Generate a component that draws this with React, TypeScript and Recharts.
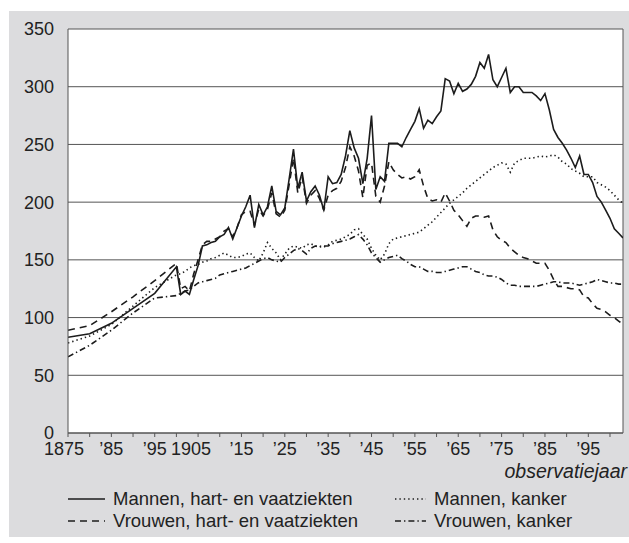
import React from "react";
import { LineChart, Line, XAxis, YAxis, CartesianGrid, ReferenceLine } from "recharts";

// observation years: 5-yearly until 1900, yearly afterwards
const years = [
  1875, 1880, 1885, 1890, 1895, 1900,
  1901, 1902, 1903, 1904, 1905, 1906, 1907, 1908, 1909, 1910,
  1911, 1912, 1913, 1914, 1915, 1916, 1917, 1918, 1919, 1920,
  1921, 1922, 1923, 1924, 1925, 1926, 1927, 1928, 1929, 1930,
  1931, 1932, 1933, 1934, 1935, 1936, 1937, 1938, 1939, 1940,
  1941, 1942, 1943, 1944, 1945, 1946, 1947, 1948, 1949, 1950,
  1951, 1952, 1953, 1954, 1955, 1956, 1957, 1958, 1959, 1960,
  1961, 1962, 1963, 1964, 1965, 1966, 1967, 1968, 1969, 1970,
  1971, 1972, 1973, 1974, 1975, 1976, 1977, 1978, 1979, 1980,
  1981, 1982, 1983, 1984, 1985, 1986, 1987, 1988, 1989, 1990,
  1991, 1992, 1993, 1994, 1995, 1996, 1997, 1998, 1999, 2000,
  2001, 2002, 2003,
];

const mannenHart = [
  83, 86, 95, 108, 121, 144,
  120, 123, 120, 133, 145, 162, 163, 165, 166, 170,
  172, 178, 168, 178, 188, 196, 206, 178, 198, 189,
  196, 214, 192, 189, 195, 220, 246, 212, 226, 201,
  209, 214, 206, 193, 222, 216, 217, 224, 240, 262,
  247, 238, 216, 238, 275, 211, 222, 218, 251, 251,
  251, 248, 256, 263, 270, 281, 264, 271, 268, 274,
  279, 307, 305, 294, 303, 296, 298, 302, 309, 321,
  316, 328, 306, 300, 308, 316, 295, 300, 300, 295,
  295, 295, 292, 288, 294, 280, 263, 256, 251, 245,
  238, 230, 240, 224, 224, 217, 205, 200, 193, 186,
  177, 173, 169,
];

const vrouwenHart = [
  89, 93, 105, 118, 132, 147,
  125, 127, 123, 138, 150, 163, 166, 166, 168, 170,
  175, 177, 170, 178, 189, 192, 192, 180, 194, 188,
  194, 208, 190, 187, 193, 215, 238, 208, 222, 199,
  206, 210, 203, 193, 206, 210, 212, 218, 230, 248,
  240, 227, 204, 232, 234, 205, 200, 214, 235, 228,
  224, 221, 222, 220, 222, 228, 214, 203, 201, 202,
  200, 208, 201, 193, 189, 184, 179, 186, 188, 188,
  187, 188, 176, 170, 167, 165, 160, 157, 154, 152,
  151, 149, 147, 147, 147, 141, 133, 127, 127, 126,
  125, 125, 124, 118, 117, 112, 108, 107, 105, 102,
  100, 97, 94,
];

const mannenKanker = [
  78, 84, 94, 110, 126, 137,
  138, 140, 143, 145, 146, 148, 149, 151, 152, 154,
  156, 154, 152, 152, 153, 155, 156, 152, 149, 156,
  165, 160, 156, 150, 155, 160, 162, 161, 160, 163,
  164, 162, 162, 161, 163, 166, 167, 168, 170, 172,
  176, 177, 172, 168, 160, 154, 150, 155, 164, 168,
  169, 170, 171, 172, 173, 174, 177, 180, 183, 187,
  191, 195, 199, 202, 205, 208, 212, 215, 218, 221,
  224, 227, 230, 232, 234, 233, 226, 234, 236, 238,
  238, 238, 239, 240, 239, 240, 241, 239, 235, 233,
  229, 227, 225, 222, 222, 222, 217, 215, 213, 210,
  206, 202, 199,
];

const vrouwenKanker = [
  66, 76, 89, 104, 117, 119,
  121, 123, 124, 127, 130, 131, 132, 133, 134, 137,
  138, 139, 140, 141, 142, 143, 145, 147, 149, 151,
  152, 150, 149, 148, 152, 155, 158, 160, 158, 155,
  160, 162, 161, 162, 162, 164, 165, 166, 167, 168,
  170, 172, 168, 163, 156, 152, 148, 150, 152, 153,
  154, 151, 149, 146, 144, 144, 142, 140, 140, 139,
  139, 140, 141, 142, 143, 144, 144, 142, 140, 139,
  137, 136, 136, 135, 133, 130, 128, 128, 127, 127,
  127, 127, 127, 128, 129, 130, 131, 131, 130, 130,
  130, 129, 128, 129, 130, 131, 133, 132, 131, 130,
  130, 129, 129,
];

const xTicks = [
  1875, 1880, 1885, 1890, 1895, 1900, 1905, 1910, 1915, 1920, 1925, 1930, 1935,
  1940, 1945, 1950, 1955, 1960, 1965, 1970, 1975, 1980, 1985, 1990, 1995, 2000,
];
const xLabelYears = [1875, 1885, 1895, 1905, 1915, 1925, 1935, 1945, 1955, 1965, 1975, 1985, 1995];
const xLabels = ["1875", "’85", "’95", "1905", "’15", "’25", "’35", "’45", "’55", "’65", "’75", "’85", "’95"];
const yTicks = [0, 50, 100, 150, 200, 250, 300, 350];

const data = years.map((year, i) => ({
  year,
  mannenHart: mannenHart[i],
  vrouwenHart: vrouwenHart[i],
  mannenKanker: mannenKanker[i],
  vrouwenKanker: vrouwenKanker[i],
}));

const INK = "#1c1c1c";
const FONT = "'Liberation Sans', Arial, Helvetica, sans-serif";

const series = [
  { key: "mannenHart", name: "Mannen, hart- en vaatziekten", dash: undefined },
  { key: "vrouwenHart", name: "Vrouwen, hart- en vaatziekten", dash: "7 5" },
  { key: "mannenKanker", name: "Mannen, kanker", dash: "1.4 3" },
  { key: "vrouwenKanker", name: "Vrouwen, kanker", dash: "6 3 1.4 3" },
];

const XTick = (props: any) => {
  const { x, y, payload } = props;
  const idx = xLabelYears.indexOf(payload.value);
  if (idx < 0) return null;
  const shift = payload.value === 1875 ? -4 : payload.value === 1905 ? -7 : 0;
  return (
    <text x={x + shift} y={y} dy="0.71em" textAnchor="middle" fill="#222" fontSize={18} fontFamily={FONT}>
      {xLabels[idx]}
    </text>
  );
};

const LegendItem = ({ s, w }: { s: (typeof series)[number]; w: number }) => (
  <div style={{ display: "flex", alignItems: "center", height: 22 }}>
    <svg width={w} height={10} style={{ marginRight: 8 }}>
      <line x1={0} y1={5} x2={w} y2={5} stroke={INK} strokeWidth={1.6} strokeDasharray={s.dash} />
    </svg>
    <span>{s.name}</span>
  </div>
);

export default function App() {
  return (
    <div style={{ position: "absolute", left: 0, top: 0, width: 629, height: 543, background: "#fff", fontFamily: FONT }}>
      <div style={{ position: "absolute", left: 9, top: 11, width: 620, height: 526, background: "#dcdcde" }} />
      <div style={{ position: "absolute", left: 0, top: 0 }}>
        <LineChart width={629} height={543} data={data} margin={{ top: 29, right: 6, left: 8, bottom: 80 }}>
          <CartesianGrid vertical={false} stroke="#555" fill="#ffffff" fillOpacity={1} />
          <XAxis
            dataKey="year"
            type="number"
            domain={[1875, 2003]}
            ticks={xTicks}
            interval={0}
            height={30}
            tick={<XTick />}
            tickSize={4}
            tickMargin={5}
            stroke="#555"
            allowDataOverflow
          />
          <YAxis
            domain={[0, 350]}
            ticks={yTicks}
            interval={0}
            width={60}
            tickLine={false}
            tickMargin={8}
            stroke="#555"
            tick={{ fill: "#222", fontSize: 18, fontFamily: FONT }}
          />
          <ReferenceLine x={2003} stroke="#555" />
          {series.map((s) => (
            <Line
              key={s.key}
              type="linear"
              dataKey={s.key}
              name={s.name}
              stroke={INK}
              strokeWidth={1.6}
              strokeDasharray={s.dash}
              dot={false}
              isAnimationActive={false}
            />
          ))}
        </LineChart>
      </div>
      <div style={{ position: "absolute", right: 2, top: 460, lineHeight: "22px", fontSize: 19.5, fontStyle: "italic", color: "#222" }}>
        observatiejaar
      </div>
      <div style={{ position: "absolute", left: 68, top: 488, fontSize: 18.5, color: "#222", display: "flex" }}>
        <div style={{ width: 327 }}>
          <LegendItem s={series[0]} w={37} />
          <LegendItem s={series[1]} w={37} />
        </div>
        <div>
          <LegendItem s={series[2]} w={31} />
          <LegendItem s={series[3]} w={31} />
        </div>
      </div>
    </div>
  );
}
